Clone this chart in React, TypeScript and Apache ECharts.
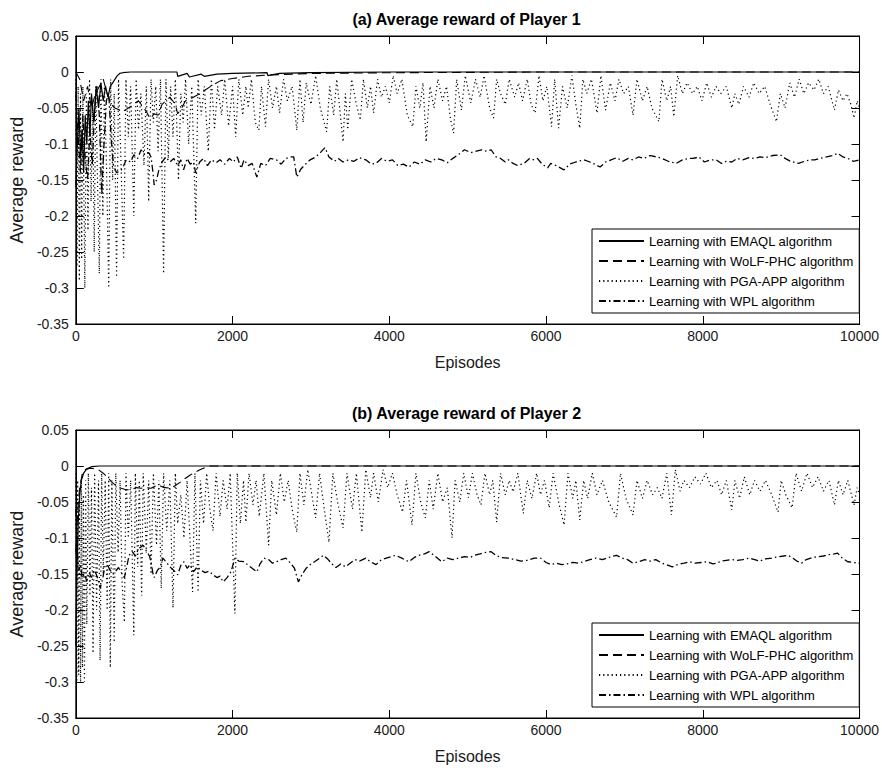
import React, { useEffect, useRef } from "react";
import * as echarts from "echarts";

// ---------- DATA (episode, average reward) ----------
const xTicks = [0, 2000, 4000, 6000, 8000, 10000];
const yTicks = [-0.35, -0.3, -0.25, -0.2, -0.15, -0.1, -0.05, 0, 0.05];
const titles = ["(a) Average reward of Player 1", "(b) Average reward of Player 2"];
const seriesNames = [
  "Learning with EMAQL algorithm",
  "Learning with WoLF-PHC algorithm",
  "Learning with PGA-APP algorithm",
  "Learning with WPL algorithm",
];

const emaqlA: [number, number][] = [
  [0, -0.16], [20, -0.1], [40, -0.05], [60, -0.12], [80, -0.08], [100, -0.14], [120, -0.06], [140, -0.1],
  [160, -0.04], [180, -0.09], [200, -0.03], [230, -0.07], [260, -0.02], [290, -0.05], [320, -0.015],
  [350, -0.04], [380, -0.02], [410, -0.035], [440, -0.02], [470, -0.015], [500, -0.01], [530, -0.005],
  [560, -0.002], [600, -0.001], [700, 0], [1290, 0], [1300, -0.006], [1420, -0.002], [1450, -0.007],
  [1600, -0.003], [1640, -0.006], [1800, -0.003], [2000, -0.002], [2440, -0.001], [2450, -0.005],
  [2600, -0.002], [3000, -0.001], [4000, 0], [10000, 0],
];

const wolfA: [number, number][] = [
  [0, 0], [50, -0.01], [100, -0.04], [150, -0.02], [200, -0.05], [250, -0.03], [300, -0.02], [350, -0.01],
  [400, -0.03], [450, -0.045], [500, -0.05], [600, -0.055], [700, -0.048], [800, -0.04], [900, -0.055],
  [950, -0.065], [1000, -0.058], [1050, -0.06], [1100, -0.045], [1150, -0.04], [1200, -0.035],
  [1270, -0.045], [1300, -0.058], [1350, -0.05], [1400, -0.04], [1450, -0.038], [1550, -0.032],
  [1650, -0.025], [1750, -0.018], [1850, -0.012], [2000, -0.009], [2200, -0.006], [2500, -0.004],
  [3000, -0.002], [4000, -0.001], [6000, 0], [10000, 0],
];

const pgaA: [number, number][] = [
  [0, -0.01], [15, -0.27], [30, -0.02], [45, -0.29], [60, -0.03], [75, -0.26], [90, -0.02], [115, -0.3],
  [135, -0.03], [155, -0.22], [175, -0.01], [195, -0.18], [215, -0.04], [235, -0.25], [255, -0.02],
  [275, -0.14], [300, -0.28], [320, -0.01], [345, -0.2], [365, -0.02], [390, -0.12], [420, -0.3],
  [445, -0.01], [470, -0.15], [490, -0.03], [520, -0.285], [545, -0.01], [570, -0.1], [610, -0.26],
  [640, -0.01], [670, -0.09], [700, -0.02], [740, -0.2], [770, -0.01], [800, -0.08], [830, -0.03],
  [870, -0.13], [900, -0.02], [930, -0.18], [960, -0.01], [990, -0.07], [1020, -0.02], [1050, -0.11],
  [1080, -0.01], [1120, -0.28], [1150, -0.01], [1180, -0.12], [1210, -0.02], [1240, -0.09], [1270, -0.01],
  [1310, -0.15], [1340, -0.03], [1370, -0.07], [1400, -0.01], [1440, -0.1], [1480, -0.02], [1530, -0.21],
  [1560, -0.01], [1600, -0.06], [1640, -0.02], [1690, -0.11], [1730, -0.01], [1770, -0.08], [1810, -0.02],
  [1860, -0.06], [1900, -0.01], [1950, -0.075], [2000, -0.02], [2040, -0.09], [2080, -0.01], [2130, -0.06],
  [2170, -0.02], [2200, -0.05], [2240, -0.01], [2290, -0.07], [2335, -0.081], [2370, -0.02], [2420, -0.076],
  [2460, -0.01], [2510, -0.05], [2560, -0.02], [2600, -0.057], [2650, -0.01], [2700, -0.04], [2760, -0.02],
  [2820, -0.081], [2860, -0.01], [2900, -0.07], [2940, -0.015], [3000, -0.045], [3060, -0.005], [3120, -0.05],
  [3200, -0.083], [3240, -0.02], [3290, -0.06], [3330, -0.01], [3410, -0.097], [3440, -0.03], [3470, -0.08],
  [3520, -0.01], [3570, -0.04], [3630, -0.067], [3670, -0.01], [3720, -0.05], [3760, -0.02], [3800, -0.057],
  [3850, -0.01], [3900, -0.035], [3950, -0.02], [4000, -0.043], [4050, -0.005], [4100, -0.03], [4160, -0.01],
  [4230, -0.06], [4300, -0.076], [4340, -0.02], [4390, -0.05], [4430, -0.015], [4470, -0.097], [4520, -0.02],
  [4570, -0.05], [4620, -0.01], [4680, -0.04], [4730, -0.02], [4780, -0.065], [4820, -0.085], [4860, -0.01],
  [4920, -0.053], [4970, -0.005], [5040, -0.043], [5100, -0.01], [5160, -0.035], [5210, -0.005], [5280, -0.05],
  [5330, -0.064], [5370, -0.01], [5420, -0.03], [5480, -0.045], [5530, -0.01], [5600, -0.035], [5650, -0.015],
  [5700, -0.04], [5760, -0.01], [5810, -0.045], [5860, -0.057], [5910, -0.005], [5960, -0.04], [6010, -0.02],
  [6070, -0.076], [6110, -0.01], [6160, -0.078], [6210, -0.02], [6270, -0.05], [6330, -0.005], [6380, -0.045],
  [6430, -0.078], [6470, -0.01], [6520, -0.03], [6580, -0.01], [6650, -0.057], [6700, -0.005], [6760, -0.053],
  [6820, -0.015], [6880, -0.04], [6930, -0.01], [6990, -0.03], [7050, -0.02], [7110, -0.06], [7160, -0.01],
  [7230, -0.04], [7290, -0.02], [7350, -0.05], [7440, -0.069], [7480, -0.01], [7540, -0.04], [7590, -0.02],
  [7630, -0.062], [7680, -0.005], [7740, -0.03], [7800, -0.015], [7870, -0.03], [7930, -0.02], [7990, -0.04],
  [8050, -0.015], [8110, -0.035], [8170, -0.02], [8230, -0.03], [8300, -0.02], [8370, -0.05], [8410, -0.03],
  [8460, -0.045], [8520, -0.02], [8590, -0.035], [8650, -0.015], [8720, -0.03], [8790, -0.02], [8860, -0.045],
  [8940, -0.069], [8990, -0.03], [9050, -0.05], [9110, -0.015], [9170, -0.035], [9230, -0.01], [9290, -0.03],
  [9350, -0.015], [9420, -0.025], [9480, -0.01], [9540, -0.03], [9600, -0.02], [9680, -0.053], [9730, -0.025],
  [9790, -0.04], [9840, -0.03], [9890, -0.045], [9930, -0.064], [9970, -0.04], [10000, -0.05],
];

const wplA: [number, number][] = [
  [0, -0.03], [30, -0.09], [60, -0.14], [90, -0.06], [120, -0.12], [150, -0.15], [180, -0.08], [210, -0.13],
  [240, -0.05], [270, -0.02], [300, -0.06], [330, -0.17], [360, -0.1], [390, -0.04], [420, -0.03], [450, -0.09],
  [480, -0.13], [520, -0.14], [580, -0.136], [610, -0.13], [644, -0.122], [700, -0.125], [740, -0.115],
  [790, -0.12], [833, -0.108], [880, -0.115], [930, -0.112], [960, -0.118], [985, -0.14], [1000, -0.157],
  [1030, -0.15], [1060, -0.136], [1100, -0.125], [1150, -0.118], [1200, -0.125], [1250, -0.12], [1300, -0.13],
  [1340, -0.122], [1375, -0.136], [1420, -0.12], [1460, -0.128], [1500, -0.125], [1530, -0.14], [1580, -0.125],
  [1630, -0.12], [1680, -0.13], [1730, -0.122], [1790, -0.126], [1840, -0.122], [1900, -0.128], [1960, -0.12],
  [2010, -0.125], [2060, -0.118], [2110, -0.134], [2146, -0.122], [2200, -0.13], [2250, -0.127], [2310, -0.146],
  [2360, -0.127], [2420, -0.13], [2480, -0.12], [2560, -0.122], [2620, -0.128], [2680, -0.12], [2740, -0.118],
  [2780, -0.118], [2820, -0.146], [2870, -0.135], [2930, -0.128], [2990, -0.122], [3060, -0.118], [3120, -0.112],
  [3180, -0.105], [3230, -0.118], [3300, -0.124], [3350, -0.12], [3410, -0.125], [3480, -0.122], [3550, -0.124],
  [3620, -0.119], [3700, -0.122], [3770, -0.128], [3830, -0.127], [3900, -0.12], [3970, -0.124], [4040, -0.122],
  [4110, -0.13], [4180, -0.128], [4250, -0.132], [4320, -0.125], [4390, -0.128], [4460, -0.122], [4530, -0.125],
  [4600, -0.12], [4670, -0.122], [4740, -0.126], [4810, -0.12], [4880, -0.115], [4960, -0.108], [5040, -0.112],
  [5110, -0.11], [5180, -0.108], [5240, -0.11], [5300, -0.108], [5360, -0.118], [5420, -0.12], [5480, -0.125],
  [5520, -0.122], [5580, -0.127], [5640, -0.13], [5720, -0.127], [5790, -0.12], [5850, -0.122], [5890, -0.12],
  [5950, -0.128], [6020, -0.133], [6060, -0.127], [6130, -0.13], [6230, -0.136], [6300, -0.128], [6380, -0.125],
  [6480, -0.122], [6560, -0.125], [6620, -0.128], [6690, -0.132], [6760, -0.125], [6830, -0.122], [6900, -0.119],
  [6980, -0.124], [7050, -0.12], [7110, -0.122], [7180, -0.118], [7250, -0.12], [7330, -0.116], [7410, -0.118],
  [7480, -0.12], [7560, -0.124], [7660, -0.127], [7740, -0.122], [7820, -0.12], [7880, -0.12], [7950, -0.118],
  [8020, -0.125], [8100, -0.122], [8170, -0.122], [8240, -0.127], [8300, -0.124], [8370, -0.125], [8440, -0.12],
  [8510, -0.122], [8590, -0.119], [8660, -0.12], [8730, -0.118], [8800, -0.119], [8890, -0.116], [8990, -0.115],
  [9050, -0.12], [9120, -0.124], [9220, -0.127], [9300, -0.124], [9370, -0.122], [9430, -0.122], [9500, -0.12],
  [9580, -0.118], [9650, -0.116], [9720, -0.113], [9790, -0.118], [9850, -0.12], [9920, -0.124], [10000, -0.122],
];

const emaqlB: [number, number][] = [
  [0, -0.25], [15, -0.15], [30, -0.08], [50, -0.04], [70, -0.02], [100, -0.01], [140, -0.004], [200, -0.001],
  [300, 0], [10000, 0],
];

const wolfB: [number, number][] = [
  [0, -0.12], [25, -0.06], [50, -0.03], [80, -0.012], [120, -0.005], [180, -0.003], [250, -0.004],
  [300, -0.006], [350, -0.01], [400, -0.015], [455, -0.022], [520, -0.028], [580, -0.031], [640, -0.033],
  [700, -0.033], [770, -0.03], [830, -0.031], [900, -0.03], [960, -0.031], [1010, -0.028], [1050, -0.026],
  [1100, -0.029], [1150, -0.03], [1210, -0.031], [1270, -0.027], [1340, -0.022], [1400, -0.017],
  [1460, -0.0125], [1530, -0.008], [1590, -0.005], [1650, -0.002], [1720, 0], [10000, 0],
];

const pgaB: [number, number][] = [
  [0, -0.01], [12, -0.3], [24, -0.02], [36, -0.29], [48, -0.03], [60, -0.3], [72, -0.02], [84, -0.28],
  [96, -0.04], [110, -0.3], [125, -0.02], [140, -0.22], [160, -0.01], [180, -0.18], [200, -0.03], [220, -0.26],
  [240, -0.01], [265, -0.2], [290, -0.02], [310, -0.27], [330, -0.01], [350, -0.15], [375, -0.02], [400, -0.2],
  [420, -0.01], [440, -0.28], [460, -0.02], [490, -0.245], [510, -0.01], [540, -0.12], [565, -0.02], [590, -0.16],
  [620, -0.217], [640, -0.01], [670, -0.1], [700, -0.02], [740, -0.235], [760, -0.01], [790, -0.14], [810, -0.02],
  [840, -0.18], [860, -0.01], [900, -0.12], [930, -0.02], [960, -0.15], [990, -0.01], [1030, -0.11], [1060, -0.02],
  [1090, -0.17], [1120, -0.01], [1160, -0.09], [1200, -0.02], [1240, -0.197], [1270, -0.01], [1300, -0.08],
  [1340, -0.04], [1380, -0.1], [1420, -0.02], [1490, -0.175], [1520, -0.01], [1560, -0.175], [1590, -0.02],
  [1630, -0.08], [1670, -0.01], [1710, -0.06], [1750, -0.09], [1790, -0.01], [1840, -0.07], [1880, -0.02],
  [1930, -0.06], [1970, -0.01], [2030, -0.205], [2060, -0.01], [2100, -0.08], [2140, -0.02], [2170, -0.078],
  [2210, -0.01], [2260, -0.054], [2300, -0.02], [2340, -0.07], [2400, -0.01], [2460, -0.11], [2500, -0.02],
  [2560, -0.068], [2610, -0.01], [2660, -0.05], [2710, -0.02], [2760, -0.06], [2820, -0.092], [2860, -0.01],
  [2910, -0.054], [2960, -0.005], [3060, -0.072], [3110, -0.01], [3170, -0.06], [3230, -0.106], [3280, -0.01],
  [3340, -0.05], [3410, -0.086], [3460, -0.01], [3530, -0.06], [3580, -0.01], [3650, -0.092], [3700, -0.005],
  [3760, -0.044], [3800, -0.01], [3860, -0.05], [3920, -0.005], [3980, -0.03], [4040, -0.01], [4100, -0.04],
  [4170, -0.064], [4220, -0.02], [4290, -0.082], [4340, -0.01], [4400, -0.05], [4460, -0.072], [4510, -0.02],
  [4560, -0.06], [4620, -0.01], [4680, -0.05], [4740, -0.03], [4800, -0.1], [4840, -0.02], [4900, -0.05],
  [4950, -0.01], [5010, -0.044], [5060, -0.01], [5120, -0.04], [5170, -0.054], [5220, -0.01], [5280, -0.04],
  [5320, -0.02], [5370, -0.078], [5420, -0.01], [5480, -0.04], [5530, -0.02], [5580, -0.036], [5640, -0.01],
  [5710, -0.066], [5760, -0.02], [5820, -0.045], [5880, -0.01], [5930, -0.04], [5980, -0.02], [6040, -0.058],
  [6090, -0.01], [6160, -0.05], [6230, -0.082], [6280, -0.01], [6340, -0.045], [6380, -0.02], [6430, -0.075],
  [6480, -0.02], [6530, -0.045], [6590, -0.01], [6650, -0.04], [6720, -0.02], [6800, -0.05], [6900, -0.071],
  [6950, -0.01], [7020, -0.045], [7110, -0.068], [7160, -0.02], [7230, -0.045], [7290, -0.02], [7360, -0.04],
  [7420, -0.03], [7480, -0.045], [7540, -0.01], [7600, -0.068], [7650, -0.005], [7710, -0.035], [7760, -0.02],
  [7830, -0.03], [7900, -0.015], [7970, -0.025], [8040, -0.01], [8110, -0.03], [8180, -0.02], [8240, -0.04],
  [8300, -0.02], [8370, -0.061], [8410, -0.02], [8470, -0.045], [8530, -0.015], [8600, -0.04], [8660, -0.02],
  [8730, -0.035], [8800, -0.02], [8880, -0.04], [8960, -0.064], [9000, -0.02], [9060, -0.04], [9140, -0.058],
  [9190, -0.01], [9260, -0.035], [9330, -0.01], [9400, -0.03], [9470, -0.015], [9540, -0.035], [9610, -0.02],
  [9680, -0.054], [9730, -0.02], [9790, -0.04], [9850, -0.02], [9930, -0.054], [9970, -0.03], [10000, -0.04],
];

const wplB: [number, number][] = [
  [0, -0.06], [20, -0.12], [40, -0.145], [60, -0.137], [80, -0.155], [110, -0.15], [140, -0.16], [170, -0.148],
  [200, -0.155], [230, -0.145], [260, -0.15], [290, -0.16], [310, -0.17], [340, -0.158], [370, -0.14],
  [400, -0.137], [440, -0.145], [480, -0.15], [545, -0.141], [580, -0.148], [620, -0.155], [650, -0.14],
  [680, -0.124], [720, -0.119], [760, -0.125], [800, -0.115], [860, -0.11], [900, -0.118], [940, -0.125],
  [960, -0.133], [985, -0.15], [1000, -0.155], [1040, -0.145], [1080, -0.14], [1110, -0.128], [1150, -0.133],
  [1200, -0.14], [1250, -0.145], [1300, -0.151], [1340, -0.138], [1380, -0.133], [1420, -0.142], [1460, -0.137],
  [1500, -0.147], [1550, -0.14], [1600, -0.145], [1650, -0.148], [1700, -0.146], [1750, -0.151], [1800, -0.155],
  [1840, -0.153], [1880, -0.161], [1930, -0.155], [1980, -0.147], [2030, -0.128], [2080, -0.132], [2150, -0.133],
  [2200, -0.138], [2250, -0.142], [2310, -0.147], [2350, -0.136], [2400, -0.128], [2460, -0.13], [2510, -0.135],
  [2560, -0.133], [2620, -0.13], [2680, -0.128], [2740, -0.135], [2790, -0.142], [2840, -0.161], [2890, -0.15],
  [2940, -0.142], [2990, -0.137], [3060, -0.132], [3110, -0.128], [3160, -0.124], [3220, -0.13], [3270, -0.136],
  [3320, -0.141], [3380, -0.136], [3440, -0.14], [3500, -0.135], [3560, -0.13], [3620, -0.132], [3700, -0.128],
  [3760, -0.133], [3830, -0.137], [3900, -0.13], [3960, -0.128], [4020, -0.126], [4080, -0.124], [4160, -0.128],
  [4250, -0.133], [4320, -0.127], [4380, -0.124], [4450, -0.122], [4510, -0.119], [4580, -0.125], [4670, -0.133],
  [4740, -0.128], [4810, -0.13], [4880, -0.128], [4960, -0.126], [5030, -0.127], [5090, -0.124], [5160, -0.122],
  [5230, -0.12], [5300, -0.119], [5360, -0.124], [5420, -0.127], [5520, -0.128], [5600, -0.13], [5680, -0.132],
  [5760, -0.131], [5850, -0.128], [5930, -0.128], [6000, -0.134], [6060, -0.137], [6130, -0.135], [6200, -0.137],
  [6270, -0.136], [6340, -0.134], [6410, -0.135], [6480, -0.133], [6560, -0.13], [6640, -0.128], [6720, -0.13],
  [6800, -0.127], [6900, -0.124], [6970, -0.128], [7040, -0.13], [7110, -0.135], [7180, -0.133], [7260, -0.13],
  [7330, -0.132], [7400, -0.13], [7480, -0.135], [7560, -0.138], [7610, -0.14], [7680, -0.137], [7760, -0.135],
  [7830, -0.133], [7900, -0.135], [7980, -0.134], [8060, -0.133], [8130, -0.136], [8170, -0.135], [8240, -0.132],
  [8300, -0.131], [8370, -0.13], [8440, -0.131], [8510, -0.13], [8590, -0.128], [8660, -0.13], [8730, -0.132],
  [8800, -0.129], [8880, -0.128], [8960, -0.126], [9030, -0.125], [9090, -0.124], [9150, -0.128], [9200, -0.132],
  [9260, -0.135], [9320, -0.13], [9400, -0.127], [9470, -0.126], [9540, -0.125], [9610, -0.123], [9680, -0.122],
  [9720, -0.121], [9780, -0.128], [9850, -0.133], [9920, -0.134], [10000, -0.135],
];

// ---------- STYLE ----------
const FONT = '"Liberation Sans", Arial, Helvetica, sans-serif';
const lineTypes: any[] = ["solid", [9, 5], [1.2, 3], [7, 3, 1.5, 3]];
const lineWidths = [1.2, 1.1, 1.2, 1.3];

const GRID_LEFT = 71;
const GRID_WIDTH = 791;
const GRID_TOPS = [36, 430];
const GRID_H = 288;

export default function App() {
  const ref = useRef<HTMLDivElement>(null);
  useEffect(() => {
    if (!ref.current) return;
    const chart = echarts.init(ref.current, undefined, { renderer: "svg" });
    const panels = [
      [emaqlA, wolfA, pgaA, wplA],
      [emaqlB, wolfB, pgaB, wplB],
    ];
    const grids = GRID_TOPS.map((t) => ({
      left: GRID_LEFT, top: t, width: GRID_WIDTH, height: GRID_H,
      show: true, borderColor: "#000", borderWidth: 1, backgroundColor: "#fff",
    }));
    const xAxes: any[] = [];
    const yAxes: any[] = [];
    GRID_TOPS.forEach((_, g) => {
      const baseX = {
        gridIndex: g, type: "value", min: xTicks[0], max: xTicks[xTicks.length - 1], interval: 2000,
        splitLine: { show: false },
        axisLine: { show: true, onZero: false, lineStyle: { color: "#000", width: 1 } },
        axisTick: { show: true, inside: true, length: 8, lineStyle: { color: "#000" } },
      };
      xAxes.push({
        ...baseX, position: "bottom",
        axisLabel: {
          show: true, color: "#1a1a1a", fontFamily: FONT, fontSize: 14, margin: 5,
          formatter: (v: number) => String(v),
        },
        name: "Episodes", nameLocation: "middle", nameGap: 30,
        nameTextStyle: { color: "#1a1a1a", fontFamily: FONT, fontSize: 16 },
      });
      xAxes.push({ ...baseX, position: "top", axisLabel: { show: false } });
      const baseY = {
        gridIndex: g, type: "value", min: yTicks[0], max: yTicks[yTicks.length - 1], interval: 0.05,
        splitLine: { show: false },
        axisLine: { show: true, onZero: false, lineStyle: { color: "#000", width: 1 } },
        axisTick: { show: true, inside: true, length: 8, lineStyle: { color: "#000" } },
      };
      yAxes.push({
        ...baseY, position: "left",
        axisLabel: { show: true, color: "#1a1a1a", fontFamily: FONT, fontSize: 14, margin: 7 },
        name: "Average reward", nameLocation: "middle", nameGap: 47, nameRotate: 90,
        nameTextStyle: { color: "#1a1a1a", fontFamily: FONT, fontSize: 18 },
      });
      yAxes.push({ ...baseY, position: "right", axisLabel: { show: false } });
    });
    const series: any[] = [];
    panels.forEach((arrs, g) => {
      arrs.forEach((d, i) => {
        series.push({
          name: seriesNames[i], type: "line", data: d, xAxisIndex: g * 2, yAxisIndex: g * 2,
          symbol: "none", showSymbol: false, smooth: false, silent: true, clip: true,
          z: 4 - i,
          lineStyle: { color: "#000", width: lineWidths[i], type: lineTypes[i] },
          itemStyle: { color: "#000" },
        });
      });
    });
    const legends = GRID_TOPS.map((t) => ({
      show: true, orient: "vertical", left: 592, top: 229 + (t - GRID_TOPS[0]),
      data: seriesNames, selectedMode: false,
      itemWidth: 45, itemHeight: 14, itemGap: 6,
      backgroundColor: "#fff", borderColor: "#000", borderWidth: 1,
      padding: [5, 6, 5, 6],
      itemStyle: { color: "rgba(0,0,0,0)", borderWidth: 0, opacity: 0 },
      textStyle: { color: "#000", fontFamily: FONT, fontSize: 13, lineHeight: 14 },
    }));
    chart.setOption({
      animation: false,
      backgroundColor: "#fff",
      grid: grids,
      xAxis: xAxes,
      yAxis: yAxes,
      legend: legends,
      series,
      graphic: titles.map((tx, g) => ({
        type: "text", x: GRID_LEFT + GRID_WIDTH / 2, y: GRID_TOPS[g] - 17, z: 100,
        style: { text: tx, align: "center", verticalAlign: "middle", fill: "#000",
          font: `bold 16px ${FONT}` },
      })),
    });
    return () => chart.dispose();
  }, []);
  return (
    <div
      ref={ref}
      style={{ position: "fixed", left: 0, top: 0, width: 882, height: 773, background: "#fff" }}
    />
  );
}
